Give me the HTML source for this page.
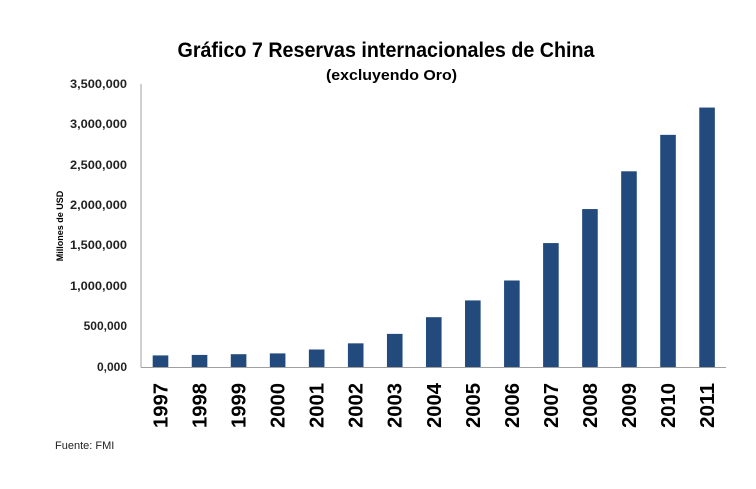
<!DOCTYPE html>
<html><head><meta charset="utf-8"><style>
html,body{margin:0;padding:0;background:#fff;}
svg{display:block;font-family:"Liberation Sans",sans-serif;}
</style></head><body>
<svg width="756" height="489" viewBox="0 0 756 489" xmlns="http://www.w3.org/2000/svg">
<text x="386" y="57" text-anchor="middle" font-size="21" font-weight="bold" textLength="417" lengthAdjust="spacingAndGlyphs">Gráfico 7 Reservas internacionales  de China</text>
<text x="391.5" y="80" text-anchor="middle" font-size="15" font-weight="bold" textLength="131" lengthAdjust="spacingAndGlyphs">(excluyendo Oro)</text>
<g font-size="12" font-weight="bold" text-anchor="end" fill="#222">
<text x="127" y="88" textLength="57" lengthAdjust="spacingAndGlyphs">3,500,000</text>
<text x="127" y="128" textLength="57" lengthAdjust="spacingAndGlyphs">3,000,000</text>
<text x="127" y="169" textLength="57" lengthAdjust="spacingAndGlyphs">2,500,000</text>
<text x="127" y="209" textLength="57" lengthAdjust="spacingAndGlyphs">2,000,000</text>
<text x="127" y="249" textLength="57" lengthAdjust="spacingAndGlyphs">1,500,000</text>
<text x="127" y="290" textLength="57" lengthAdjust="spacingAndGlyphs">1,000,000</text>
<text x="127" y="330">500,000</text>
<text x="127" y="371">0,000</text>
</g>
<text transform="translate(63,226) rotate(-90)" text-anchor="middle" font-size="9" font-weight="bold">Millones de USD</text>
<line x1="141" y1="84" x2="141" y2="367.5" stroke="#a0a0a0" stroke-width="1"/>
<line x1="141" y1="367.5" x2="726" y2="367.5" stroke="#a0a0a0" stroke-width="1"/>
<g fill="#234a7c" id="bars"></g>
<g id="labels" font-size="20" font-weight="bold"></g>
<text x="55" y="449" font-size="11" fill="#222">Fuente: FMI</text>
<script>
var v=[143,149,158,168,216,292,409,615,822,1068,1530,1950,2416,2866,3203];
var b=document.getElementById('bars'),l=document.getElementById('labels'),ns='http://www.w3.org/2000/svg';
for(var i=0;i<15;i++){var c=160.5+39.04*i;var h=v[i]/500*40.5;
var r=document.createElementNS(ns,'rect');r.setAttribute('x',c-7.8);r.setAttribute('y',367-h);r.setAttribute('width',15.6);r.setAttribute('height',h);b.appendChild(r);
var t=document.createElementNS(ns,'text');t.setAttribute('transform','translate('+(c+7)+',428) rotate(-90)');t.setAttribute('textLength','45');t.setAttribute('lengthAdjust','spacingAndGlyphs');t.textContent=1997+i;l.appendChild(t);}
</script>
</svg>
</body></html>
